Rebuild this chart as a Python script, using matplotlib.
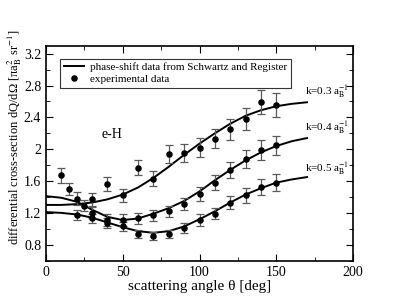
import matplotlib
matplotlib.use("Agg")
import matplotlib.pyplot as plt
import numpy as np
from matplotlib.ticker import MultipleLocator

plt.rcParams['font.family'] = ['Liberation Serif', 'DejaVu Serif']
plt.rcParams['mathtext.fontset'] = 'stix'

# phase-shift curves (Schwartz and Register)
theta_c = [0, 10, 20, 30, 40, 50, 60, 70, 80, 90, 100, 110, 120, 130, 140, 150, 160, 170]
q_k03 = [1.30, 1.30, 1.31, 1.33, 1.37, 1.43, 1.52, 1.64, 1.78, 1.93, 2.07, 2.20, 2.32, 2.42, 2.49, 2.54, 2.57, 2.59]
q_k04 = [1.41, 1.39, 1.34, 1.24, 1.15, 1.11, 1.13, 1.19, 1.26, 1.35, 1.47, 1.61, 1.74, 1.86, 1.96, 2.04, 2.10, 2.14]
q_k05 = [1.21, 1.20, 1.18, 1.14, 1.08, 1.02, 0.97, 0.95, 0.97, 1.03, 1.12, 1.22, 1.33, 1.43, 1.51, 1.58, 1.62, 1.65]

# experimental data
th_03 = [10, 15, 20, 30, 40, 50, 60, 70, 80, 90, 100, 110, 120, 130, 140, 150]
ex_03 = [1.67, 1.50, 1.38, 1.37, 1.56, 1.42, 1.77, 1.63, 1.94, 1.95, 2.02, 2.13, 2.25, 2.38, 2.59, 2.55]
er_03 = [0.09, 0.08, 0.08, 0.08, 0.09, 0.08, 0.10, 0.09, 0.11, 0.11, 0.12, 0.12, 0.13, 0.14, 0.15, 0.15]

th_04 = [25, 30, 40, 50, 60, 70, 80, 90, 100, 110, 120, 130, 140, 150]
ex_04 = [1.29, 1.20, 1.11, 1.11, 1.13, 1.17, 1.22, 1.31, 1.44, 1.58, 1.74, 1.88, 1.99, 2.05]
er_04 = [0.07, 0.07, 0.07, 0.07, 0.07, 0.07, 0.07, 0.08, 0.09, 0.09, 0.10, 0.11, 0.12, 0.12]

th_05 = [20, 30, 40, 50, 60, 70, 80, 90, 100, 110, 120, 130, 140, 150]
ex_05 = [1.17, 1.13, 1.07, 1.03, 0.94, 0.91, 0.93, 1.01, 1.11, 1.19, 1.33, 1.42, 1.53, 1.58]
er_05 = [0.06, 0.06, 0.06, 0.06, 0.05, 0.05, 0.05, 0.06, 0.07, 0.07, 0.08, 0.09, 0.10, 0.11]

k_labels = [r'k=0.3 a$_\mathrm{B}^{-1}$', r'k=0.4 a$_\mathrm{B}^{-1}$', r'k=0.5 a$_\mathrm{B}^{-1}$']
k_label_y = [2.73, 2.27, 1.76]

fig = plt.figure(figsize=(3.98, 3.07), dpi=100)
ax = fig.add_axes([0.1156, 0.151, 0.7714, 0.700])

for q in (q_k03, q_k04, q_k05):
    ax.plot(theta_c, q, color='black', lw=1.4)
ax.plot([], [], color='black', lw=1.4, label='phase-shift data from Schwartz and Register')

for th, ex, er in ((th_03, ex_03, er_03), (th_04, ex_04, er_04), (th_05, ex_05, er_05)):
    ax.errorbar(th, ex, yerr=er, fmt='none', ecolor='#5a5a5a', elinewidth=0.9,
                capsize=3, capthick=0.9, zorder=2)
    ax.plot(th, ex, 'o', color='black', ms=3.7, zorder=3)
ax.plot([], [], 'o', color='black', ms=3.7, label='experimental data')

for lab, yy in zip(k_labels, k_label_y):
    ax.text(169, yy, lab, fontsize=8, ha='left', va='center')
ax.text(36, 2.18, 'e-H', fontsize=10, ha='left', va='center')

ax.set_xlim(0, 200)
ax.set_ylim(0.6, 3.3)
ax.xaxis.set_major_locator(MultipleLocator(50))
ax.xaxis.set_minor_locator(MultipleLocator(25))
ax.yaxis.set_minor_locator(MultipleLocator(0.2))
ax.set_yticks([0.8, 1.2, 1.6, 2.0, 2.4, 2.8, 3.2])
ax.set_yticklabels(['0.8', '1.2', '1.6', '2', '2.4', '2.8', '3.2'])
ax.tick_params(which='both', direction='in', top=True, right=True, labelsize=10)
ax.tick_params(which='major', length=5)
ax.tick_params(which='minor', length=3)
for s in ax.spines.values():
    s.set_linewidth(1.2)

ax.set_xlabel('scattering angle θ [deg]', fontsize=11, labelpad=1)
ax.set_ylabel(r'differential cross-section dQ/dΩ [πa$_\mathrm{B}^2$ sr$^{-1}$]', fontsize=9)
ax.yaxis.set_label_coords(-0.072, 0.575)

leg = ax.legend(loc='upper left', bbox_to_anchor=(0.045, 0.94), fontsize=8, frameon=True,
                fancybox=False, edgecolor='black', handlelength=1.8, borderpad=0.35,
                labelspacing=0.15, handletextpad=0.6, borderaxespad=0)
leg.get_frame().set_linewidth(0.8)

fig.savefig('out.png', dpi=100)
